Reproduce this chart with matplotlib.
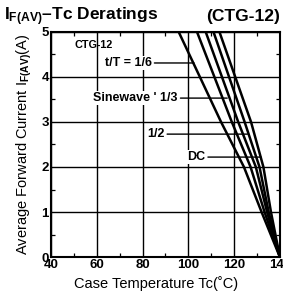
import matplotlib
matplotlib.use("Agg")
import matplotlib.pyplot as plt
from matplotlib.ticker import MultipleLocator

plt.rcParams['font.family'] = ['Liberation Sans', 'DejaVu Sans']
plt.rcParams['mathtext.fontset'] = 'custom'
plt.rcParams['mathtext.rm'] = 'Liberation Sans:bold'
plt.rcParams['mathtext.bf'] = 'Liberation Sans:bold'
plt.rcParams['mathtext.default'] = 'bf'

# current levels (A) and case temperature (C)
currents = [5, 3, 2, 1, 0]
t_1_6 = [95.8, 114.3, 124.3, 132.0, 140.0]
t_sine = [103.8, 119.0, 127.2, 133.3, 140.0]
t_1_3 = [107.6, 121.8, 129.5, 134.4, 140.0]
t_1_2 = [111.0, 124.6, 131.1, 135.1, 140.0]
t_dc = [113.6, 127.4, 132.8, 136.1, 140.0]
curves = [t_1_6, t_sine, t_1_3, t_1_2, t_dc]

# labels: (text, text x, text y, leader end x)
labels = [("t/T = 1/6", 63.5, 4.31, 102.5),
          ("Sinewave ' 1/3", 58.5, 3.53, 117.0),
          ("1/2", 82.0, 2.73, 125.8),
          ("DC", 99.5, 2.22, 131.8)]

fig = plt.figure(figsize=(2.83, 3.01), dpi=100)
ax = fig.add_axes([0.180, 0.146, 0.809, 0.748])

for t in curves:
    ax.plot(t, currents, color='black', lw=1.8, solid_capstyle='butt', zorder=3)

ax.set_xlim(40, 140)
ax.set_ylim(0, 5)
ax.xaxis.set_major_locator(MultipleLocator(20))
ax.xaxis.set_minor_locator(MultipleLocator(10))
ax.yaxis.set_major_locator(MultipleLocator(1))
ax.yaxis.set_minor_locator(MultipleLocator(0.5))
ax.grid(which='major', color='black', lw=1.0)
ax.tick_params(which='both', direction='in', top=True, right=True,
               length=3, width=0.9, labelsize=9.5, pad=1.5)
ax.tick_params(which='major', length=0)
for lab in ax.get_xticklabels() + ax.get_yticklabels():
    lab.set_fontweight('bold')
for s in ax.spines.values():
    s.set_linewidth(1.5)

ax.text(50.5, 4.71, "CTG-12", fontsize=7.8, fontweight='bold', ha='left',
        va='center', zorder=5)
for txt, tx, ty, ex in labels:
    ax.annotate(txt, xy=(ex, ty), xytext=(tx, ty), fontsize=9,
                fontweight='bold', ha='left', va='center', zorder=5,
                bbox=dict(boxstyle='square,pad=0.1', fc='white', ec='none'),
                arrowprops=dict(arrowstyle='-', color='black', lw=1.0,
                                shrinkA=1, shrinkB=0))

ax.set_xlabel("Case Temperature Tc(\u02daC)", fontsize=10.5)
ax.xaxis.set_label_coords(0.46, -0.085)
ax.set_ylabel("Average Forward Current I$_{F(AV)}$(A)", fontsize=10.5, labelpad=5)

fig.text(0.015, 0.945, "I$_{F(AV)}$\u2013Tc Deratings", fontsize=12.5,
         fontweight='bold', ha='left', va='center')
fig.text(0.99, 0.945, "(CTG-12)", fontsize=12.5, fontweight='bold',
         ha='right', va='center')

fig.savefig("out.png", dpi=100)
